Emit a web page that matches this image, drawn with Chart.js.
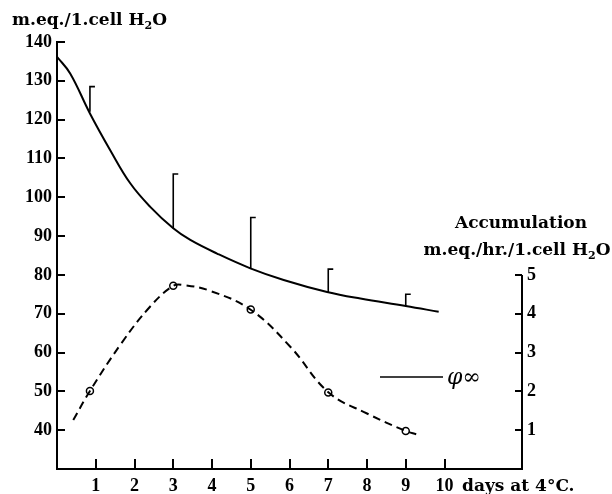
<!doctype html>
<html lang="en">
  <head>
    <meta charset="utf-8">
    <title>Accumulation vs days at 4°C</title>
    <style>
      * { margin: 0; padding: 0; }
      body { background: #fff; }
    </style>
  </head>
  <body>
    <canvas id="myChart" width="612" height="494"></canvas>
    <script src="https://cdn.jsdelivr.net/npm/chart.js"></script>
    <script>
    // setup - solid curve (m.eq./l.cell H2O, left axis)
    const curveDays = [0, 0.34, 0.85, 1.37, 1.89, 2.4, 3.0, 3.44, 4.13, 4.99, 5.85, 6.97, 7.83, 9.0, 9.85];
    const curveConc = [136.2, 131.9, 121.6, 112.2, 103.6, 97.6, 92.0, 89.0, 85.5, 81.7, 78.7, 75.6, 73.9, 72.0, 70.5];

    // error bars sitting on the solid curve
    const barDays = [0.85, 3, 5, 7, 9];
    const barLow = [122.0, 92.0, 81.8, 75.6, 72.0];
    const barHigh = [128.5, 106.0, 94.8, 81.5, 75.0];

    // dashed accumulation curve (right axis)
    const accumDays = [0.42, 0.85, 1.67, 2.4, 3.0, 3.26, 3.95, 4.99, 6.02, 7.01, 8.0, 9.0, 9.29];
    const accumCurve = [1.26, 2.01, 3.25, 4.18, 4.72, 4.74, 4.59, 4.11, 3.15, 1.97, 1.43, 0.98, 0.89];

    // observed accumulation (open circles)
    const obsDays = [0.85, 3, 5, 7, 9];
    const obsAccum = [2.01, 4.72, 4.11, 1.97, 0.98];

    // tick labels
    const xTicks = [1, 2, 3, 4, 5, 6, 7, 8, 9, 10];
    const leftTicks = [40, 50, 60, 70, 80, 90, 100, 110, 120, 130, 140];
    const rightTicks = [1, 2, 3, 4, 5];

    const TITLE = 'bold 17px "DejaVu Serif"';
    const SUB = 'bold 11px "DejaVu Serif"';

    Chart.defaults.font.family = '"Liberation Serif"';
    Chart.defaults.font.weight = 'bold';
    Chart.defaults.font.size = 18;
    Chart.defaults.color = '#000';

    const pts = (xs, ys) => xs.map((x, i) => ({ x: x, y: ys[i] }));

    // inward y ticks, partial right axis, error bars, titles, legend
    const paperPlugin = {
      id: 'paper',
      afterDraw(chart) {
        const { ctx, chartArea, scales } = chart;
        const x = scales.x, y = scales.y, y2 = scales.y2;
        ctx.save();
        ctx.strokeStyle = '#000';
        ctx.lineWidth = 2;

        // left ticks point right
        leftTicks.forEach(v => {
          const py = Math.round(y.getPixelForValue(v));
          ctx.beginPath();
          ctx.moveTo(chartArea.left, py);
          ctx.lineTo(chartArea.left + 8, py);
          ctx.stroke();
        });
        // right axis line only from 0 to 5, ticks point left
        const rx = chartArea.right;
        ctx.beginPath();
        ctx.moveTo(rx, chartArea.bottom + 1);
        ctx.lineTo(rx, y2.getPixelForValue(rightTicks[rightTicks.length - 1]));
        ctx.stroke();
        rightTicks.forEach(v => {
          const py = Math.round(y2.getPixelForValue(v));
          ctx.beginPath();
          ctx.moveTo(rx, py);
          ctx.lineTo(rx - 7, py);
          ctx.stroke();
        });

        // error bars with a small cap to the right
        ctx.lineWidth = 1.6;
        barDays.forEach((d, i) => {
          const px = x.getPixelForValue(d);
          const top = y.getPixelForValue(barHigh[i]);
          ctx.beginPath();
          ctx.moveTo(px, y.getPixelForValue(barLow[i]));
          ctx.lineTo(px, top);
          ctx.lineTo(px + 5, top);
          ctx.stroke();
        });

        // legend
        ctx.lineWidth = 1.5;
        ctx.beginPath();
        ctx.moveTo(380, 377);
        ctx.lineTo(443, 377);
        ctx.stroke();
        ctx.fillStyle = '#000';
        ctx.font = 'italic 22px "DejaVu Serif"';
        ctx.textBaseline = 'middle';
        ctx.textAlign = 'left';
        ctx.fillText('\u03c6\u221e', 447, 378);

        // titles
        ctx.font = TITLE;
        ctx.textBaseline = 'alphabetic';
        drawH2O(ctx, 'm.eq./1.cell H', 12, 25, 'left');
        ctx.textAlign = 'center';
        ctx.fillText('Accumulation', 521, 228);
        drawH2O(ctx, 'm.eq./hr./1.cell H', 517, 255, 'center');

        // x-axis unit text after the last label
        ctx.textAlign = 'left';
        ctx.textBaseline = 'middle';
        ctx.fillText('days at 4\u00b0C.', 462, 487);
        ctx.restore();
      }
    };

    function drawH2O(ctx, head, x0, yb, align) {
      const wHead = ctx.measureText(head).width;
      ctx.font = SUB;
      const wSub = ctx.measureText('2').width;
      ctx.font = TITLE;
      const wO = ctx.measureText('O').width;
      const total = wHead + wSub + wO;
      const start = align === 'center' ? x0 - total / 2 : x0;
      ctx.textAlign = 'left';
      ctx.fillText(head, start, yb);
      ctx.font = SUB;
      ctx.fillText('2', start + wHead, yb + 4);
      ctx.font = TITLE;
      ctx.fillText('O', start + wHead + wSub, yb);
    }

    const data = {
      datasets: [
        {
          data: pts(curveDays, curveConc),
          borderColor: '#000',
          borderWidth: 2,
          pointRadius: 0,
          tension: 0.4,
          yAxisID: 'y'
        },
        {
          data: pts(accumDays, accumCurve),
          borderColor: '#000',
          borderWidth: 2,
          borderDash: [8, 5],
          pointRadius: 0,
          tension: 0.4,
          yAxisID: 'y2'
        },
        {
          data: pts(obsDays, obsAccum),
          showLine: false,
          pointRadius: 3.5,
          pointBorderWidth: 1.5,
          pointBorderColor: '#000',
          pointBackgroundColor: '#fff',
          yAxisID: 'y2'
        }
      ]
    };

    // config
    const config = {
      type: 'line',
      data,
      options: {
        responsive: false,
        animation: false,
        layout: { padding: { top: 42 } },
        plugins: { legend: { display: false }, tooltip: { enabled: false } },
        scales: {
          x: {
            type: 'linear',
            min: 0,
            max: 12,
            // negative tick length turns the x ticks inward (upward)
            grid: { display: true, drawOnChartArea: false, drawTicks: true, tickLength: -10, color: '#000', lineWidth: 2 },
            border: { display: true, color: '#000', width: 2 },
            afterBuildTicks: s => { s.ticks = xTicks.map(v => ({ value: v })); },
            ticks: { padding: 17, maxRotation: 0 },
            afterFit: s => { s.height = 25; }
          },
          y: {
            position: 'left',
            min: 30,
            max: 140,
            grid: { display: false, drawTicks: false },
            border: { display: true, color: '#000', width: 2 },
            afterBuildTicks: s => { s.ticks = leftTicks.map(v => ({ value: v })); },
            ticks: { padding: 5 },
            afterFit: s => { s.width = 57; }
          },
          y2: {
            position: 'right',
            min: 0,
            max: 11,
            grid: { display: false, drawTicks: false },
            border: { display: false },
            afterBuildTicks: s => { s.ticks = rightTicks.map(v => ({ value: v })); },
            ticks: { padding: 5 },
            afterFit: s => { s.width = 90; }
          }
        }
      },
      plugins: [paperPlugin]
    };

    // render init block
    const myChart = new Chart(document.getElementById('myChart'), config);
    </script>
  </body>
</html>
